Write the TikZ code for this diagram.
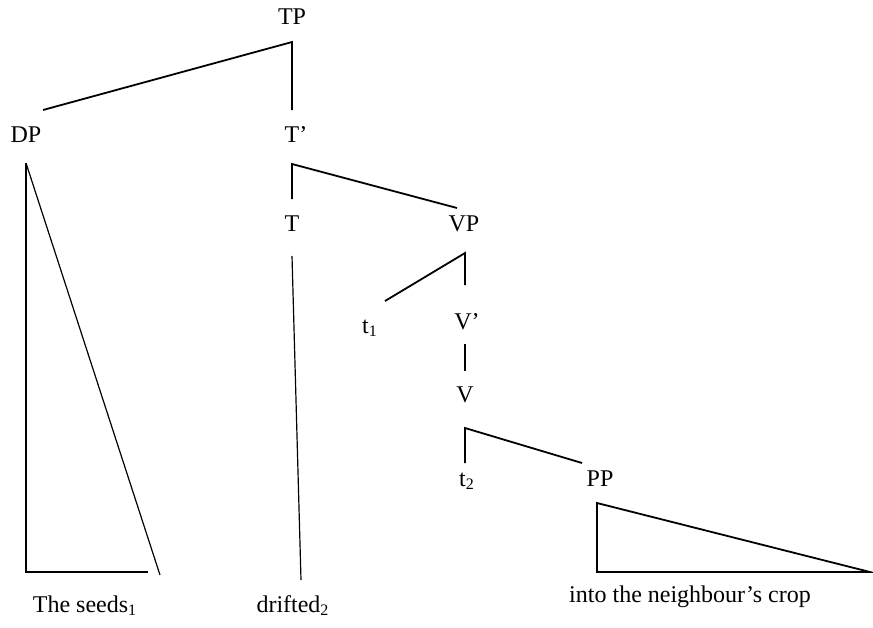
\documentclass[tikz,border=0pt]{standalone}
\usepackage{fontspec}
\setmainfont{Liberation Serif}
\usetikzlibrary{positioning}

\begin{document}
\begin{tikzpicture}[x=0.5pt,y=-0.5pt,
lbl/.style={anchor=base,inner sep=0pt,font=\fontsize{12}{14}\selectfont},
branch/.style={line width=0.9pt},
thin branch/.style={line width=0.6pt}]
\useasboundingbox (0,0) rectangle (873,627);
% labels
\node[lbl] (TP) at (292,24) {TP};
\node[lbl] (DP) at (26,142) {DP};
\node[lbl] (Tbar) at (296,142) {T’};
\node[lbl] (T) at (292,231) {T};
\node[lbl] (VP) at (464,231) {VP};
\node[lbl] (tone) at (370,333) {t\textsubscript{1}};
\node[lbl] (Vbar) at (467,329) {V’};
\node[lbl] (V) at (465,402) {V};
\node[lbl] (ttwo) at (467,486) {t\textsubscript{2}};
\node[lbl] (PP) at (600,486) {PP};
\node[lbl] (seeds) at (85,612) {The seeds\textsubscript{1}};
\node[lbl] (drifted) at (293,612) {drifted\textsubscript{2}};
\node[lbl] (crop) at (690,602) {into the neighbour’s crop};
% branch points
\coordinate (TPj) at (292,42);
\coordinate (DPtop) at (43,110);
\coordinate (Tbartop) at (292,110);
\coordinate (DPj) at (26,163);
\coordinate (DPl) at (26,572);
\coordinate (DPr) at (148,572);
\coordinate (DPd) at (160,575);
\coordinate (Tbarj) at (292,164);
\coordinate (Ttop) at (292,199);
\coordinate (VPtop) at (457,208);
\coordinate (Tj) at (292,256);
\coordinate (Tend) at (301,580);
\coordinate (VPj) at (465,253);
\coordinate (Vbartop) at (465,285);
\coordinate (tonetop) at (385,301);
\coordinate (Vbarj) at (465,344);
\coordinate (Vtop) at (465,371);
\coordinate (Vj) at (465,428);
\coordinate (ttwotop) at (465,463);
\coordinate (PPtop) at (582,463);
\coordinate (PPj) at (597,503);
\coordinate (PPl) at (597,572);
\coordinate (PPr) at (870,572);
% branches
\draw[branch] (DPtop) -- (TPj) -- (Tbartop);
\draw[branch] (DPj) -- (DPl) -- (DPr);
\draw[thin branch] (DPj) -- (DPd);
\draw[branch] (Ttop) -- (Tbarj) -- (VPtop);
\draw[thin branch] (Tj) -- (Tend);
\draw[branch] (tonetop) -- (VPj) -- (Vbartop);
\draw[branch] (Vbarj) -- (Vtop);
\draw[branch] (ttwotop) -- (Vj) -- (PPtop);
\draw[branch] (PPj) -- (PPl) -- (PPr) -- cycle;
\end{tikzpicture}
\end{document}
